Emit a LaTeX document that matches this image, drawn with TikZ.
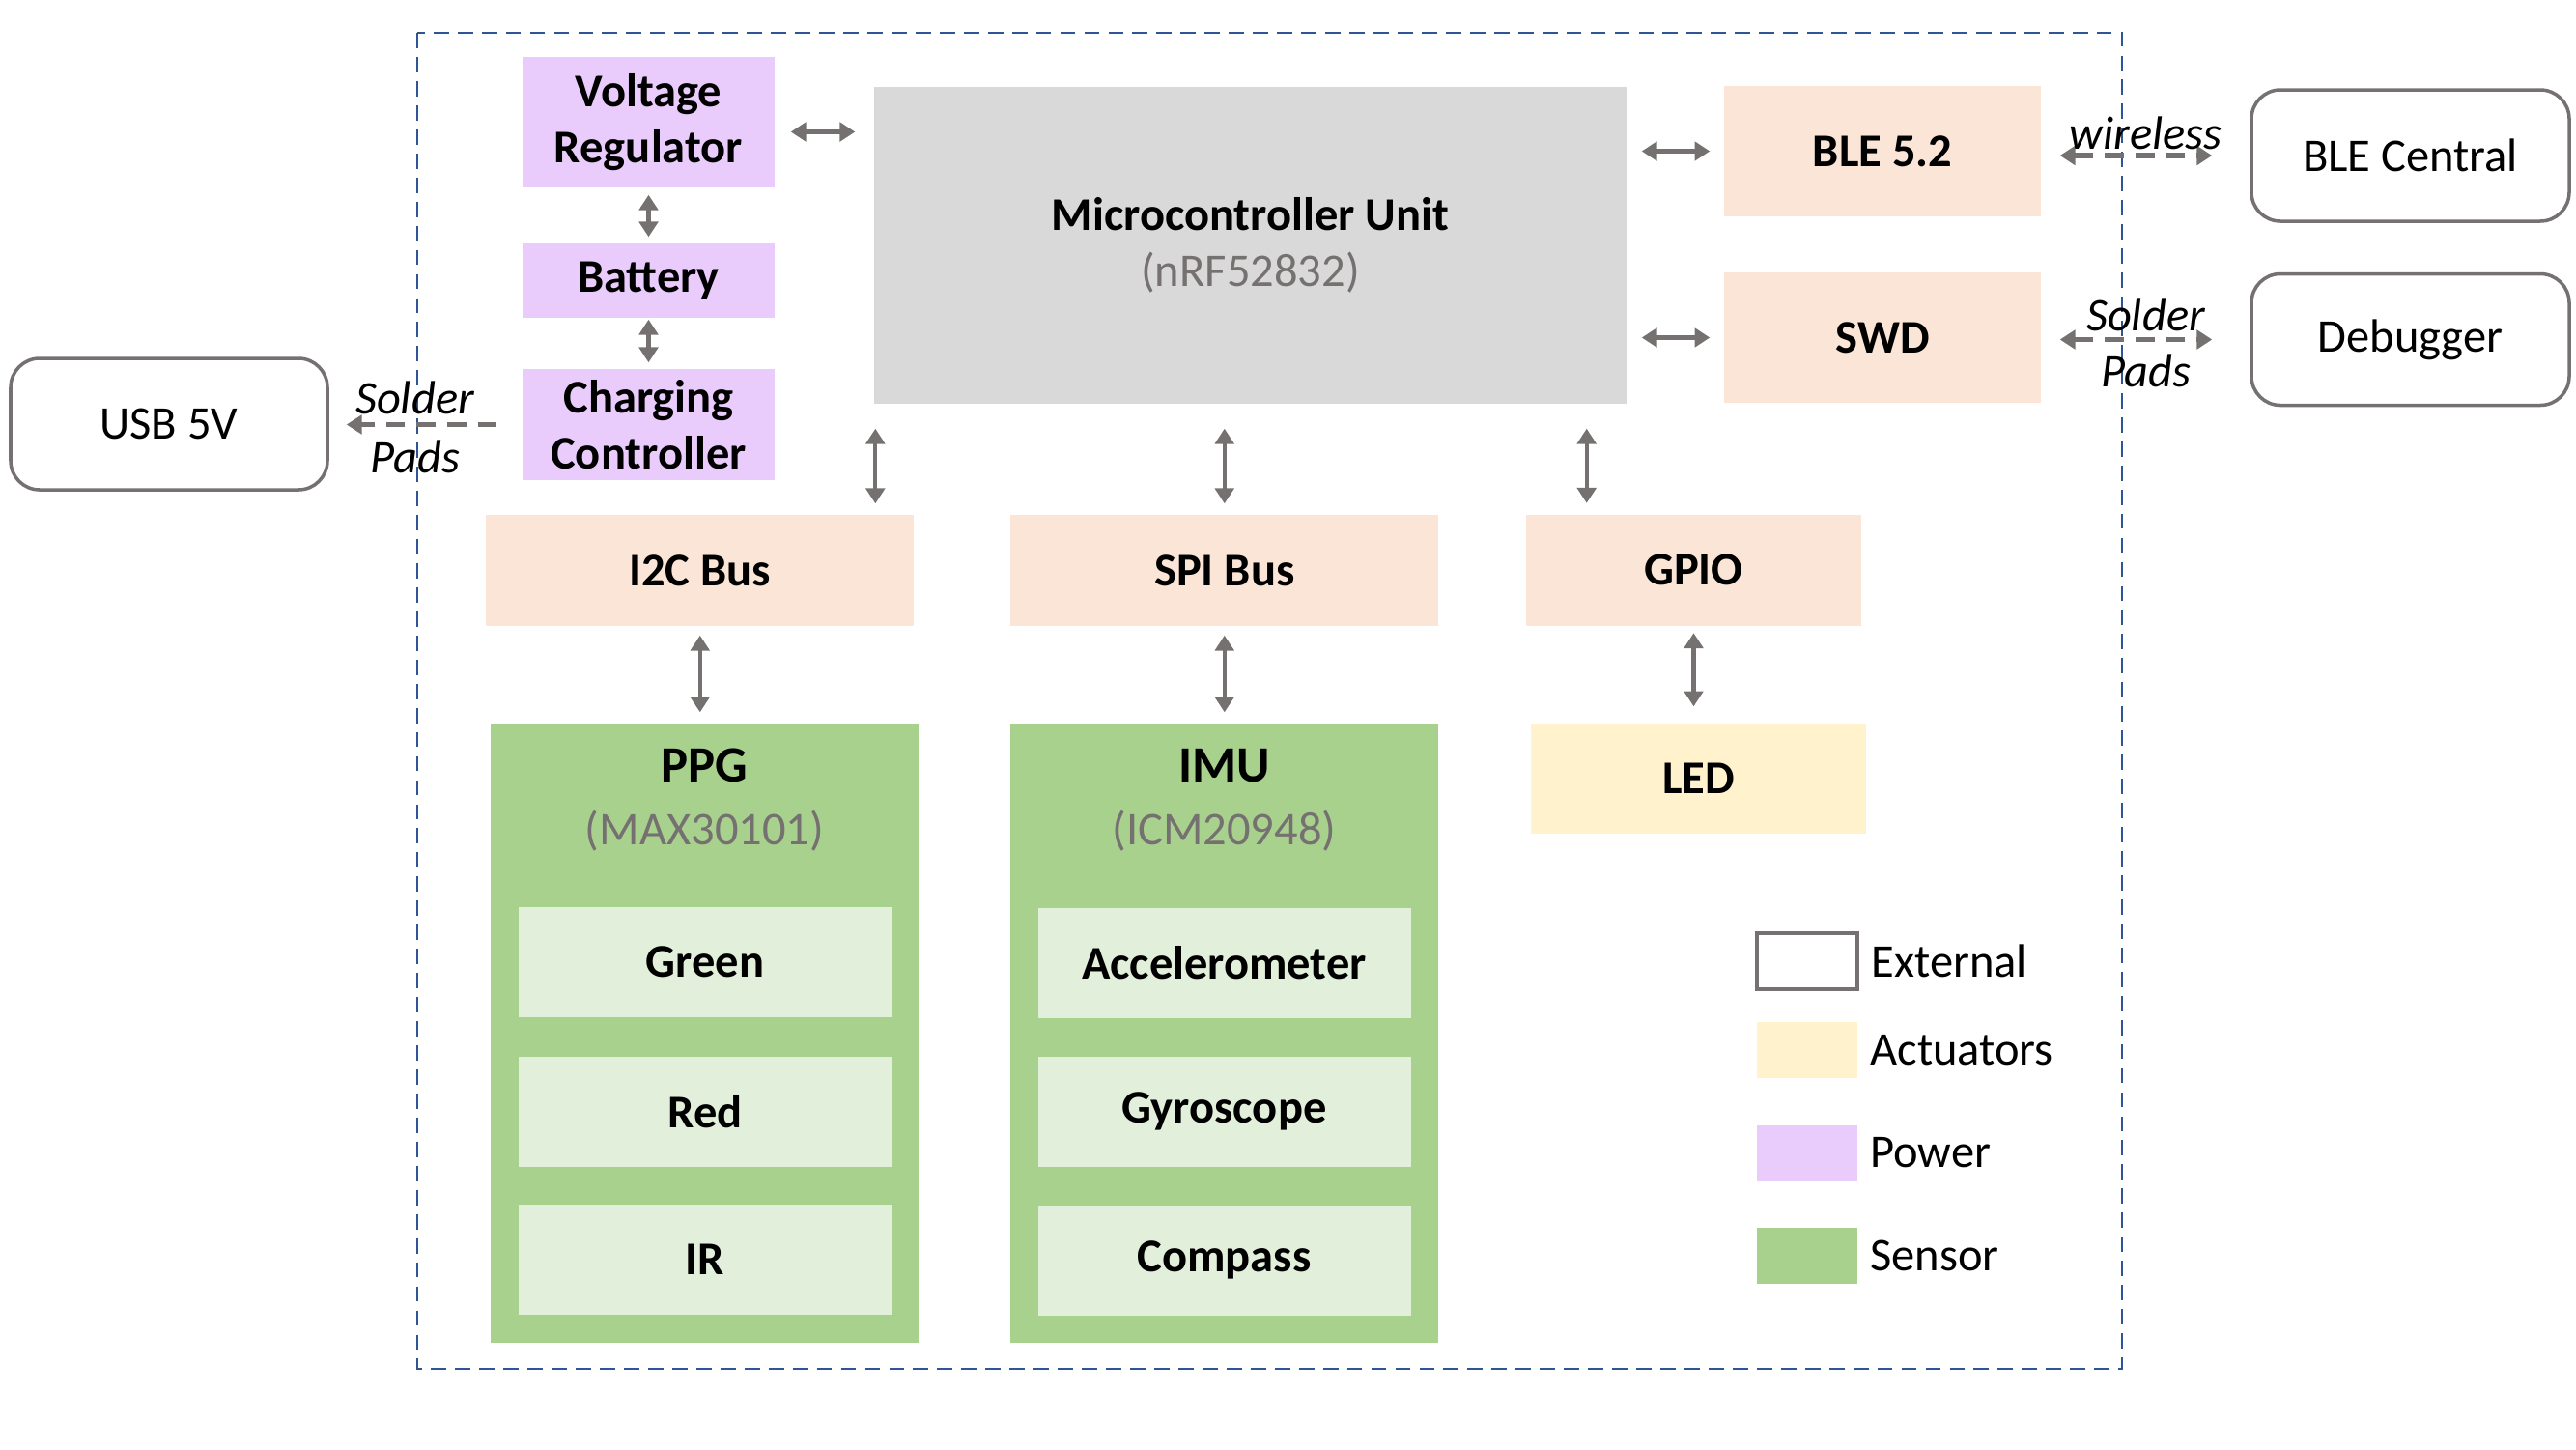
\documentclass[tikz,border=0pt]{standalone}
\usepackage{fontspec}
\setmainfont{Carlito}
\usepackage{xcolor}
\usepackage{tikz}
\usetikzlibrary{
    positioning,
    arrows.meta,
    calc
}
\definecolor{powerPurple}{RGB}{234, 204, 252}
\definecolor{busPeach}{RGB}{251, 229, 214}
\definecolor{mcuGray}{RGB}{217, 217, 217}
\definecolor{sensorGreen}{RGB}{169, 209, 142}
\definecolor{innerGreen}{RGB}{226, 239, 218}
\definecolor{ledYellow}{RGB}{255, 242, 204}
\definecolor{frameBlue}{RGB}{47, 85, 151}
\definecolor{arrowGray}{RGB}{118, 113, 113}
\definecolor{textGray}{RGB}{118, 113, 113}
\newcommand{\blockfont}{\fontsize{13.8}{16.4}\selectfont}

\begin{document}
\begin{tikzpicture}[>={Triangle[length=4.5pt, width=5.5pt]},
    block/.style={inner sep=2pt, align=center, font=\blockfont\bfseries},
    powerbox/.style={block, fill=powerPurple, minimum width=2.61cm},
    busbox/.style={block, fill=busPeach, minimum height=1.15cm},
    sensorbox/.style={block, fill=sensorGreen, minimum width=4.43cm, minimum height=6.41cm},
    innerbox/.style={block, fill=innerGreen, minimum width=3.86cm, minimum height=1.14cm},
    extbox/.style={inner sep=2pt, font=\blockfont, draw=arrowGray, line width=1pt,
        rounded corners=0.3cm, fill=white, minimum width=3.29cm, minimum height=1.36cm},
    link/.style={<->, draw=arrowGray, line width=1.2pt},
    padlink/.style={draw=arrowGray, line width=1.5pt, dash pattern=on 5.6pt off 3.4pt},
    padlabel/.style={inner sep=0pt, font=\blockfont\itshape},
    legendkey/.style={minimum width=1.04cm, minimum height=0.58cm, inner sep=0pt},
    legendtext/.style={inner sep=2pt, font=\blockfont}]
    \useasboundingbox (0,0) rectangle (26.67,-15);

    % Board outline
    \draw[frameBlue, line width=0.8pt, dash pattern=on 4.5pt off 2.6pt] (4.32,-0.34) rectangle (21.97,-14.17);

    % Power
    \node[powerbox, minimum height=1.35cm] (vreg) at (6.715,-1.265) {Voltage\\Regulator};
    \node[powerbox, minimum height=0.77cm] (batt) at (6.715,-2.905) {Battery};
    \node[powerbox, minimum height=1.15cm] (charge) at (6.715,-4.395) {Charging\\Controller};
    \node[extbox, minimum width=3.28cm] (usb) at (1.75,-4.39) {USB 5V};

    % MCU and radio
    \node[block, fill=mcuGray, minimum width=7.79cm, minimum height=3.28cm] (mcu) at (12.945,-2.54)
        {Microcontroller Unit\\\textcolor{textGray}{\mdseries (nRF52832)}};
    \node[block, fill=busPeach, minimum width=3.28cm, minimum height=1.35cm] (ble) at (19.49,-1.565) {BLE 5.2};
    \node[block, fill=busPeach, minimum width=3.28cm, minimum height=1.35cm] (swd) at (19.49,-3.495) {SWD};
    \node[extbox] (central) at (24.955,-1.61) {BLE Central};
    \node[extbox] (dbg) at (24.955,-3.515) {Debugger};

    % Buses
    \node[busbox, minimum width=4.43cm] (i2c) at (7.2475,-5.905) {I2C Bus};
    \node[busbox, minimum width=4.43cm] (spi) at (12.6775,-5.905) {SPI Bus};
    \node[busbox, minimum width=3.47cm] (gpio) at (17.535,-5.90) {GPIO};
    \node[block, fill=ledYellow, minimum width=3.47cm, minimum height=1.14cm] (led) at (17.585,-8.06) {LED};

    % Sensors
    \node[sensorbox] (ppg) at (7.295,-10.695) {};
    \node[block, anchor=center] (ppgTitle) at ([yshift=-0.80cm]ppg.north)
        {{\fontsize{15}{18}\selectfont PPG}\\[2pt]\textcolor{textGray}{\mdseries (MAX30101)}};
    \node[innerbox] (green) at (7.30,-9.96) {Green};
    \node[innerbox] (red) at (7.30,-11.505) {Red};
    \node[innerbox] (ir) at (7.30,-13.035) {IR};

    \node[sensorbox] (imu) at (12.675,-10.695) {};
    \node[block, anchor=center] (imuTitle) at ([yshift=-0.80cm]imu.north)
        {{\fontsize{15}{18}\selectfont IMU}\\[2pt]\textcolor{textGray}{\mdseries (ICM20948)}};
    \node[innerbox] (accel) at (12.675,-9.965) {Accelerometer};
    \node[innerbox] (gyro) at (12.675,-11.505) {Gyroscope};
    \node[innerbox] (compass) at (12.675,-13.045) {Compass};

    % Legend
    \node[legendkey, draw=arrowGray, line width=1pt] (keyExt) at (18.71,-9.95) {};
    \node[legendtext, anchor=west, right=0.05cm of keyExt] {External};
    \node[legendkey, fill=ledYellow] (keyAct) at (18.71,-10.87) {};
    \node[legendtext, anchor=west, right=0.05cm of keyAct] {Actuators};
    \node[legendkey, fill=powerPurple] (keyPow) at (18.71,-11.935) {};
    \node[legendtext, anchor=west, right=0.05cm of keyPow] {Power};
    \node[legendkey, fill=sensorGreen] (keySen) at (18.71,-12.995) {};
    \node[legendtext, anchor=west, right=0.05cm of keySen] {Sensor};

    % Power links
    \draw[link, shorten <=0.16cm, shorten >=0.19cm] ($(vreg.east)+(0,-0.1)$) -- ($(vreg.east -| mcu.west)+(0,-0.1)$);
    \draw[link, shorten <=0.07cm, shorten >=0.06cm] (vreg) -- (batt);
    \draw[link, shorten <=0.01cm, shorten >=0.06cm] (batt) -- (charge);
    \draw[padlink, ->, shorten <=0.26cm, shorten >=0.18cm] (charge.west) -- (charge.west -| usb.east)
        node[midway, xshift=-0.11cm, yshift=0.28cm, padlabel] {Solder}
        node[midway, xshift=-0.11cm, yshift=-0.33cm, padlabel] {Pads};

    % Bus links
    \draw[link, shorten <=0.25cm, shorten >=0.11cm] ([xshift=0.02cm]mcu.south west) -- ([xshift=0.02cm]mcu.south west |- i2c.north);
    \draw[link, shorten <=0.25cm, shorten >=0.11cm] (spi.north |- mcu.south) -- (spi.north);
    \draw[link, shorten <=0.25cm, shorten >=0.11cm] ([xshift=-0.42cm]mcu.south east) -- ([xshift=-0.42cm]mcu.south east |- gpio.north);
    \draw[link, shorten <=0.09cm, shorten >=0.11cm] (i2c.south) -- (i2c.south |- ppg.north);
    \draw[link, shorten <=0.09cm, shorten >=0.11cm] (spi.south) -- (spi.south |- imu.north);
    \draw[link, shorten <=0.07cm, shorten >=0.17cm] (gpio.south) -- (gpio.south |- led.north);

    % Radio and debug links
    \draw[link, shorten <=0.15cm, shorten >=0.14cm] (mcu.east |- ble.west) -- (ble.west);
    \draw[link, shorten <=0.15cm, shorten >=0.14cm] (mcu.east |- swd.west) -- (swd.west);
    \draw[padlink, <->, shorten <=0.19cm, shorten >=0.39cm] (ble.east |- central.west) -- (central.west)
        node[midway, yshift=0.23cm, padlabel] {wireless};
    \draw[padlink, <->, shorten <=0.19cm, shorten >=0.39cm] (swd.east |- dbg.west) -- (dbg.west)
        node[midway, yshift=0.26cm, padlabel] {Solder}
        node[midway, yshift=-0.32cm, padlabel] {Pads};
\end{tikzpicture}
\end{document}
